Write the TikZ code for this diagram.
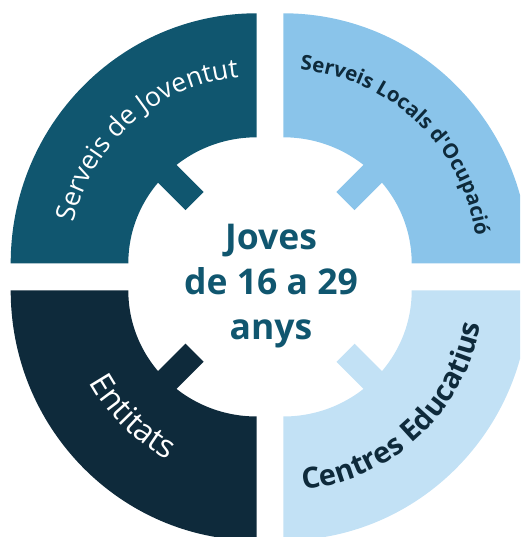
\documentclass[tikz,border=0pt]{standalone}
\usepackage{fontspec}
\setmainfont{Open Sans}
\usetikzlibrary{decorations.text}
\definecolor{tealq}{HTML}{10566F}
\definecolor{skyq}{HTML}{8AC4EA}
\definecolor{navyq}{HTML}{0E2A3B}
\definecolor{paleq}{HTML}{C2E1F5}
\begin{document}
\begin{tikzpicture}[x=1pt,y=1pt,
  centertext/.style={anchor=base, text=tealq, font=\fontsize{35.5}{43}\selectfont\bfseries, inner sep=0pt}]
\useasboundingbox (0,0) rectangle (520,537);
\clip (0,0) rectangle (520,537);
\coordinate (tl) at (256.7,273.7);
\coordinate (tr) at (283.3,273.7);
\coordinate (bl) at (256.7,246.5);
\coordinate (br) at (283.3,246.5);
% quadrants
\fill[tealq] (tl) ++(0,250) arc[start angle=90,end angle=180,x radius=246pt,y radius=250pt]
  -- ++(117.6,0) arc[start angle=180,end angle=90,x radius=128.4pt,y radius=126pt] -- cycle;
\fill[skyq] (tr) ++(0,250) arc[start angle=90,end angle=0,x radius=246pt,y radius=250pt]
  -- ++(-117.6,0) arc[start angle=0,end angle=90,x radius=128.4pt,y radius=126pt] -- cycle;
\fill[navyq] (bl) ++(0,-250) arc[start angle=270,end angle=180,x radius=246pt,y radius=250pt]
  -- ++(117.6,0) arc[start angle=180,end angle=270,x radius=128.4pt,y radius=126pt] -- cycle;
\fill[paleq] (br) ++(0,-250) arc[start angle=270,end angle=360,x radius=246pt,y radius=250pt]
  -- ++(-117.6,0) arc[start angle=0,end angle=-90,x radius=128.4pt,y radius=126pt] -- cycle;
% notches
\fill[tealq, shift={(tl)}, rotate=135] (88,-12.8) rectangle (140,12.8);
\fill[skyq, shift={(tr)}, rotate=45] (88,-12.8) rectangle (140,12.8);
\fill[navyq, shift={(bl)}, rotate=225] (88,-12.8) rectangle (140,12.8);
\fill[paleq, shift={(br)}, rotate=315] (88,-12.8) rectangle (140,12.8);
% curved labels
\path[decorate, decoration={text along path, text align=center,
  text={|\color{white}\fontsize{26.5}{26.5}\selectfont|Serveis de Joventut}}]
  (tl) ++(181.5:187pt) arc[start angle=181.5, end angle=81.5, radius=187pt];
\path[decorate, decoration={text along path, text align=center,
  text={|\color{navyq}\fontsize{20.5}{20.5}\selectfont\bfseries|Serveis Locals d{\textquotesingle}Ocupació}}]
  (tr) ++(96.5:194pt) arc[start angle=96.5, end angle=-3.5, radius=194pt];
\path[decorate, decoration={text along path, text align=center,
  text={|\color{white}\fontsize{32}{32}\selectfont|Entitats}}]
  (bl) ++(185.5:191pt) arc[start angle=185.5, end angle=265.5, radius=191pt];
\path[decorate, decoration={text along path, text align=center,
  text={|\color{navyq}\fontsize{29}{29}\selectfont\bfseries|Centres Educatius}}]
  (br) ++(263:200pt) arc[start angle=263, end angle=363, radius=200pt];
% centre
\node[centertext] (l1) at (271,287) {Joves};
\node[centertext] (l2) at (271,242) {de 16 a 29};
\node[centertext] (l3) at (271,197) {anys};
\end{tikzpicture}
\end{document}
